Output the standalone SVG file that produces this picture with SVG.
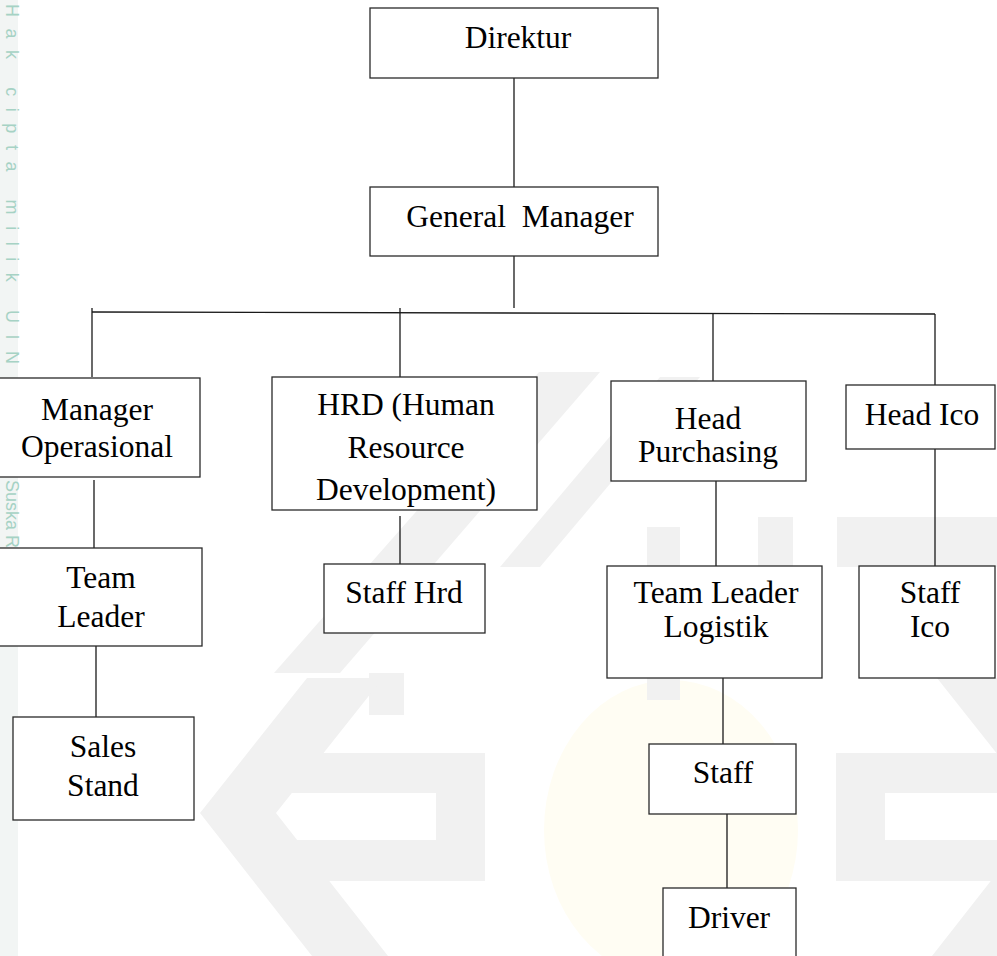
<svg xmlns="http://www.w3.org/2000/svg" width="997" height="956" viewBox="0 0 997 956">
  <style>
    .box { fill: #ffffff; stroke: #2a2a2a; stroke-width: 1.3; }
    .lbl { font-family: "Liberation Serif", "Times New Roman", serif; font-size: 31.5px; fill: #000000; text-anchor: middle; white-space: pre; }
    .wm { fill: #f1f1f1; stroke: none; }
    .conn line { stroke: #1a1a1a; stroke-width: 1.3; fill: none; }
  </style>
  <rect x="0" y="0" width="997" height="956" fill="#ffffff"/>
  <g id="watermark">
    <rect x="0" y="0" width="18" height="956" fill="#f2f5f4"/>
    <ellipse cx="671" cy="830" rx="127" ry="150" fill="#fffdf3"/>
    <polygon class="wm" points="274,673 539,372 600,372 340,673"/>
    <polygon class="wm" points="500,567 660,377 700,377 540,567"/>
    <rect class="wm" x="647" y="527" width="33" height="173"/>
    <rect class="wm" x="758" y="517" width="35" height="73"/>
    <rect class="wm" x="837" y="517" width="160" height="50"/>
    <rect class="wm" x="369" y="673" width="35" height="42"/>
    <polygon class="wm" points="200,813 307,678 383,678 276,813 388,956 312,956"/>
    <polygon class="wm" points="280,753 485,753 485,881 280,881 280,840 436,840 436,793 280,793"/>
    <polygon class="wm" points="997,753 836,753 836,881 997,881 997,840 885,840 885,793 997,793"/>
    <polygon class="wm" points="1013,678 1120,813 1008,956 932,956 1044,813 937,678"/>
    <text transform="translate(6,4) rotate(90)" x="0" y="0" font-family="Liberation Sans, Arial, sans-serif" font-size="18" fill="#a6d2c4" textLength="360" lengthAdjust="spacing">Hak cipta milik UIN</text>
    <text transform="translate(6,480) rotate(90)" x="0" y="0" font-family="Liberation Sans, Arial, sans-serif" font-size="18" fill="#a6d2c4">Suska Riau</text>
  </g>
  <g id="connectors" class="conn">
    <line x1="514" y1="78" x2="514" y2="187"/>
    <line x1="514" y1="256" x2="514" y2="308"/>
    <line x1="92" y1="312" x2="935" y2="314"/>
    <line x1="92" y1="308" x2="92" y2="377"/>
    <line x1="400" y1="308" x2="400" y2="377"/>
    <line x1="713" y1="313" x2="713" y2="381"/>
    <line x1="935" y1="314" x2="935" y2="385"/>
    <line x1="94" y1="480" x2="94" y2="548"/>
    <line x1="96" y1="646" x2="96" y2="717"/>
    <line x1="400" y1="516" x2="400" y2="564"/>
    <line x1="716" y1="481" x2="716" y2="566"/>
    <line x1="935" y1="449" x2="935" y2="566"/>
    <line x1="723" y1="672" x2="723" y2="744"/>
    <line x1="727" y1="813" x2="727" y2="888"/>
  </g>
  <g id="direktur">
    <rect class="box" x="370" y="8" width="288" height="70"/>
    <text class="lbl" x="518" y="48">Direktur</text>
  </g>
  <g id="general-manager">
    <rect class="box" x="370" y="187" width="288" height="69"/>
    <text class="lbl" x="520" y="227">General  Manager</text>
  </g>
  <g id="manager-operasional">
    <rect class="box" x="-1" y="378" width="201" height="99"/>
    <text class="lbl" x="97" y="420">Manager</text>
    <text class="lbl" x="97" y="457">Operasional</text>
  </g>
  <g id="team-leader">
    <rect class="box" x="-1" y="548" width="203" height="98"/>
    <text class="lbl" x="101" y="588">Team</text>
    <text class="lbl" x="101" y="627">Leader</text>
  </g>
  <g id="sales-stand">
    <rect class="box" x="13" y="717" width="181" height="103"/>
    <text class="lbl" x="103" y="757">Sales</text>
    <text class="lbl" x="103" y="796">Stand</text>
  </g>
  <g id="hrd">
    <rect class="box" x="272" y="377" width="265" height="133"/>
    <text class="lbl" x="406" y="415">HRD (Human</text>
    <text class="lbl" x="406" y="458">Resource</text>
    <text class="lbl" x="406" y="500">Development)</text>
  </g>
  <g id="staff-hrd">
    <rect class="box" x="324" y="564" width="161" height="69"/>
    <text class="lbl" x="404" y="603">Staff Hrd</text>
  </g>
  <g id="head-purchasing">
    <rect class="box" x="611" y="381" width="195" height="100"/>
    <text class="lbl" x="708" y="429">Head</text>
    <text class="lbl" x="708" y="462">Purchasing</text>
  </g>
  <g id="head-ico">
    <rect class="box" x="846" y="385" width="149" height="64"/>
    <text class="lbl" x="922" y="425">Head Ico</text>
  </g>
  <g id="team-leader-logistik">
    <rect class="box" x="607" y="566" width="215" height="112"/>
    <text class="lbl" x="716" y="603">Team Leader</text>
    <text class="lbl" x="716" y="637">Logistik</text>
  </g>
  <g id="staff-ico">
    <rect class="box" x="859" y="566" width="136" height="112"/>
    <text class="lbl" x="930" y="603">Staff</text>
    <text class="lbl" x="930" y="637">Ico</text>
  </g>
  <g id="staff">
    <rect class="box" x="649" y="744" width="147" height="70"/>
    <text class="lbl" x="723" y="783">Staff</text>
  </g>
  <g id="driver">
    <rect class="box" x="663" y="888" width="133" height="80"/>
    <text class="lbl" x="729" y="928">Driver</text>
  </g>
</svg>
